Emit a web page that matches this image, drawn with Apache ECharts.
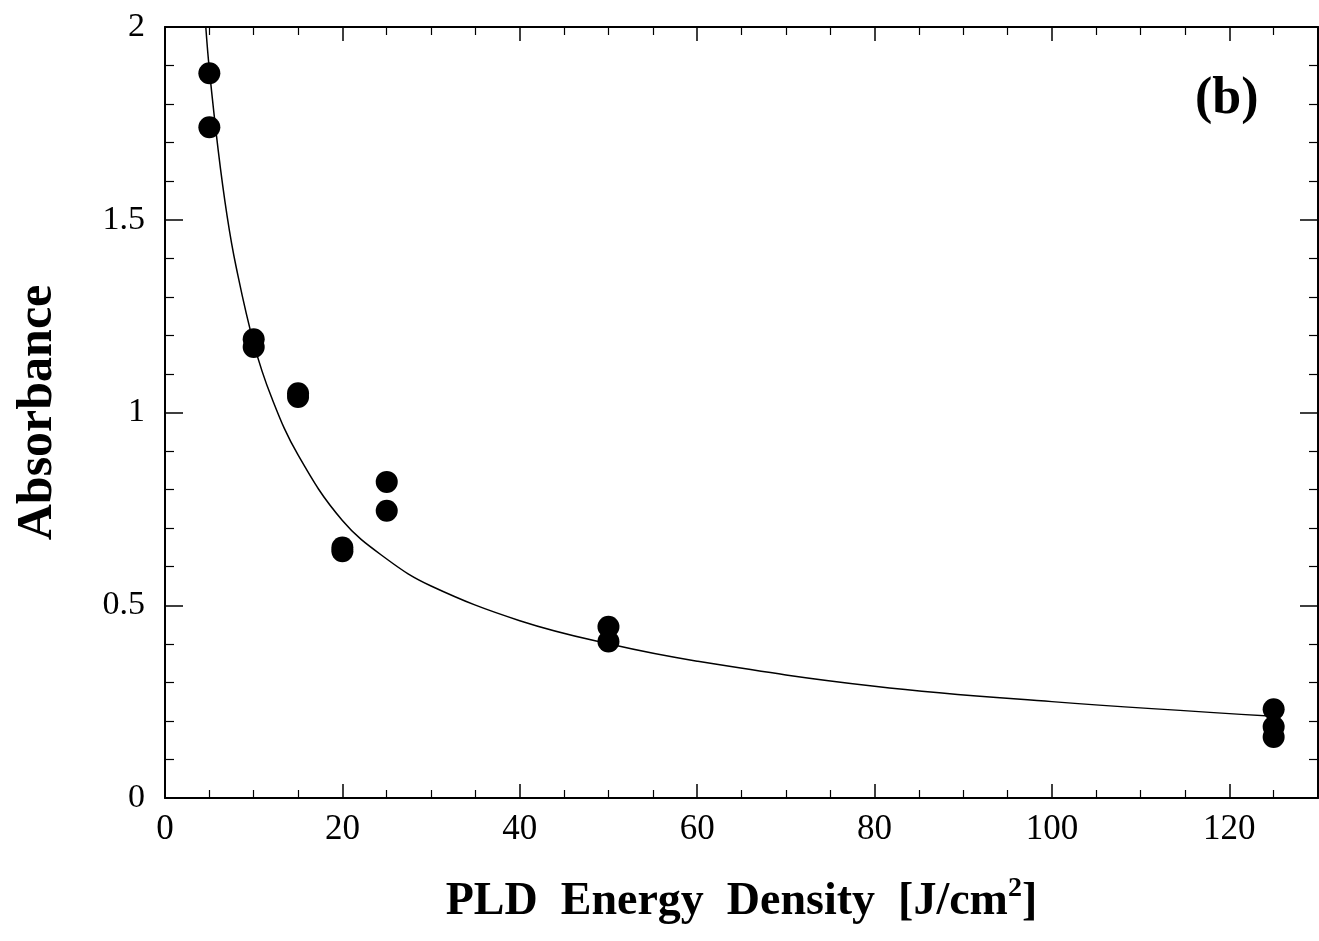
<!DOCTYPE html>
<html>
<head>
<meta charset="utf-8">
<script src="https://cdn.jsdelivr.net/npm/echarts@6/dist/echarts.min.js"></script>
<style>
  html, body { margin: 0; padding: 0; background: #fff; }
  #chart { width: 1319px; height: 941px; }
</style>
</head>
<body>
<div id="chart"></div>
<script>
// measured points (energy density, absorbance)
const energy = [5, 5, 10, 10, 15, 15, 20, 20, 25, 25, 50, 50, 125, 125, 125]
const absorbance = [1.88, 1.74, 1.19, 1.17, 1.05, 1.04, 0.65, 0.64, 0.82, 0.745, 0.444, 0.406, 0.23, 0.185, 0.158]

// fitted curve
const fitX = [4.6, 5, 6, 7, 8, 10, 12, 15, 20, 25, 30, 40, 50, 60, 80, 100, 125]
const fitY = [2.0, 1.89, 1.68, 1.51, 1.38, 1.18, 1.04, 0.89, 0.72, 0.62, 0.55, 0.46, 0.40, 0.355, 0.29, 0.25, 0.212]

const serif = '"Liberation Serif", "DejaVu Serif", serif'

const myChart = echarts.init(document.getElementById('chart'))

const axisLine = { show: true, onZero: false, lineStyle: { color: '#000', width: 2 } }

myChart.setOption({
  animation: false,
  grid: { left: 165, right: 1, top: 27, bottom: 143, outerBoundsMode: 'none', containLabel: false },
  xAxis: [
    {
      type: 'value', min: 0, max: 130, interval: 20, position: 'bottom',
      axisLine: axisLine,
      axisTick: { inside: true, length: 14, lineStyle: { color: '#000', width: 1.5 } },
      minorTick: { show: true, splitNumber: 4, length: 8, lineStyle: { color: '#000', width: 1.2 } },
      splitLine: { show: false },
      axisLabel: {
        color: '#000', fontFamily: serif, fontSize: 35, margin: 14,
        formatter: v => (v > 120 ? '' : v)
      },
      name: '{a|PLD  Energy  Density  [J/cm}{s|2}{a|]}',
      nameLocation: 'middle',
      nameGap: 78,
      nameTextStyle: {
        rich: {
          a: { fontFamily: serif, fontWeight: 'bold', fontSize: 46, color: '#000', lineHeight: 52 },
          s: { fontFamily: serif, fontWeight: 'bold', fontSize: 28, color: '#000', lineHeight: 52, padding: [0, 0, 26, 0] }
        }
      }
    },
    {
      type: 'value', min: 0, max: 130, interval: 20, position: 'top',
      axisLine: axisLine,
      axisTick: { inside: true, length: 14, lineStyle: { color: '#000', width: 1.5 } },
      minorTick: { show: true, splitNumber: 4, length: 8, lineStyle: { color: '#000', width: 1.2 } },
      splitLine: { show: false },
      axisLabel: { show: false }
    }
  ],
  yAxis: [
    {
      type: 'value', min: 0, max: 2, interval: 0.5, position: 'left',
      axisLine: axisLine,
      axisTick: { inside: true, length: 18, lineStyle: { color: '#000', width: 1.5 } },
      minorTick: { show: true, splitNumber: 5, length: 9, lineStyle: { color: '#000', width: 1.2 } },
      splitLine: { show: false },
      axisLabel: { color: '#000', fontFamily: serif, fontSize: 34, margin: 20 },
      name: 'Absorbance',
      nameLocation: 'middle',
      nameGap: 102,
      nameTextStyle: { fontFamily: serif, fontWeight: 'bold', fontSize: 50, color: '#000' }
    },
    {
      type: 'value', min: 0, max: 2, interval: 0.5, position: 'right',
      axisLine: axisLine,
      axisTick: { inside: true, length: 18, lineStyle: { color: '#000', width: 1.5 } },
      minorTick: { show: true, splitNumber: 5, length: 9, lineStyle: { color: '#000', width: 1.2 } },
      splitLine: { show: false },
      axisLabel: { show: false }
    }
  ],
  graphic: [
    {
      type: 'text', left: 1195, top: 74,
      style: { text: '(b)', font: 'bold 52px ' + serif, fill: '#000' }
    }
  ],
  series: [
    {
      type: 'line',
      data: fitX.map((x, i) => [x, fitY[i]]),
      smooth: 0.4,
      showSymbol: false,
      lineStyle: { color: '#000', width: 1.5 },
      z: 2
    },
    {
      type: 'scatter',
      data: energy.map((x, i) => [x, absorbance[i]]),
      symbol: 'circle',
      symbolSize: 22,
      itemStyle: { color: '#000', opacity: 1 },
      z: 3
    }
  ]
})
</script>
</body>
</html>
